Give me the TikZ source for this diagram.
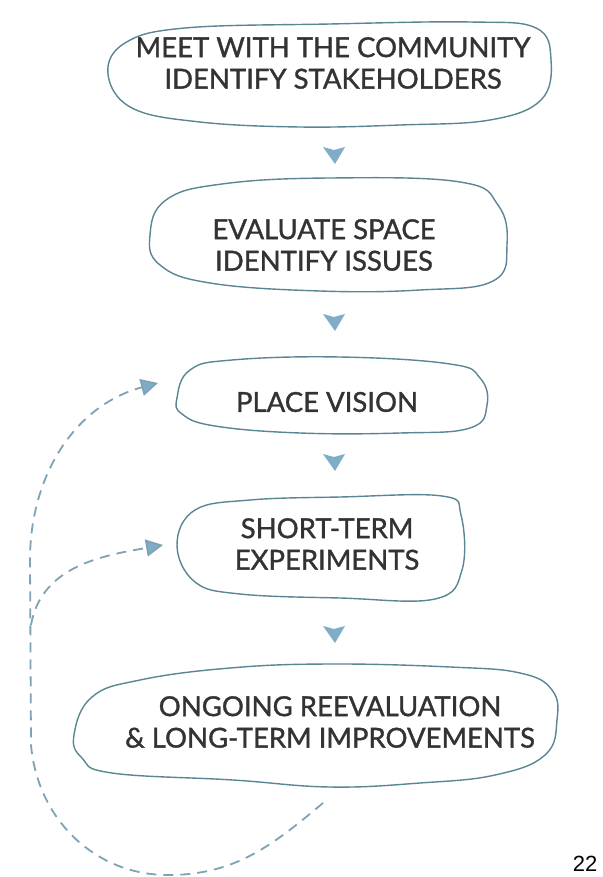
\documentclass[tikz,border=0pt]{standalone}
\usepackage{fontspec}
\setmainfont{Lato}
\newfontfamily\labelfont{Lato}[FakeBold=1.2]
\newfontfamily\numfont{Liberation Sans}
\usetikzlibrary{arrows.meta,calc}
\definecolor{blobline}{HTML}{5A8694}
\definecolor{tricol}{HTML}{7FADC8}
\definecolor{dashcol}{HTML}{7FA2B4}
\definecolor{txt}{HTML}{333333}
\tikzset{
  blob/.style={draw=blobline, line width=1.4pt},
  label/.style={align=center, text=txt, font=\labelfont\fontsize{27.5}{31.5}\selectfont, inner sep=0pt},
  downtri/.style={fill=tricol},
  loopline/.style={draw=dashcol, line width=1.8pt, dash pattern=on 10pt off 7pt,
    -{Triangle[length=17pt,width=17pt,fill=tricol]}},
}
\begin{document}
\begin{tikzpicture}[x=1pt,y=-1pt]
\useasboundingbox (0,0) rectangle (602,877);
\fill[white] (0,0) rectangle (602,877);

% blobs
\draw[blob] plot[smooth cycle, tension=0.65] coordinates {
 (108,74) (125,43) (185,28) (330,24) (470,22) (536,28) (551,60) (541,100)
 (490,120) (400,125) (300,127) (200,122) (132,108)};
\draw[blob] plot[smooth cycle, tension=0.7] coordinates {
 (150,235) (166,200) (222,184) (330,178) (460,182) (498,205) (507,245) (493,281)
 (420,290) (320,291) (210,283) (160,265)};
\draw[blob] plot[smooth cycle, tension=0.7] coordinates {
 (177,398) (190,370) (232,360) (340,357) (450,364) (480,378) (487,405) (470,428)
 (400,433) (300,433) (215,426) (182,414)};
\draw[blob] plot[smooth cycle, tension=0.65] coordinates {
 (177,545) (195,510) (250,500) (340,497) (442,496) (461,515) (462,570) (435,599)
 (340,598) (240,594) (195,582)};
\draw[blob] plot[smooth cycle, tension=0.7] coordinates {
 (74,735) (92,697) (140,680) (230,668) (330,664) (450,667) (520,673) (552,690)
 (557,720) (545,755) (495,775) (420,783) (330,787) (233,780) (112,773) (82,758)};

% texts
\node[label] (n1) at (333,63) {MEET WITH THE COMMUNITY\\IDENTIFY STAKEHOLDERS};
\node[label] (n2) at (324,245) {EVALUATE SPACE\\IDENTIFY ISSUES};
\node[label] (n3) at (327,402) {PLACE VISION};
\node[label] (n4) at (327,544) {SHORT-TERM\\EXPERIMENTS};
\node[label] (n5) at (330,722) {ONGOING REEVALUATION\\\&~LONG-TERM IMPROVEMENTS};

% small arrows between steps
\foreach \yy in {155,322,462,634}{
  \fill[downtri] (323,\yy-8) -- (334,\yy-5) -- (345,\yy-8) -- (335,\yy+9) -- cycle;
}

% feedback loops
\coordinate (ls) at (323,803);
\coordinate (bot) at (168,875);
\coordinate (lv) at (31,745);
\coordinate (lt) at (30,560);
\coordinate (br) at (31,625);
\coordinate (a3) at (158,383);
\coordinate (a4) at (163,545);
\draw[loopline] (ls) to[out=220,in=0] (bot) to[out=180,in=-85] (lv) -- (lt)
  to[out=90,in=195] (a3);
\draw[loopline] (br) to[out=80,in=190] (a4);

\node[font=\numfont\fontsize{22}{22}\selectfont, text=black, inner sep=0pt] (pg) at (585,864) {22};
\end{tikzpicture}
\end{document}
